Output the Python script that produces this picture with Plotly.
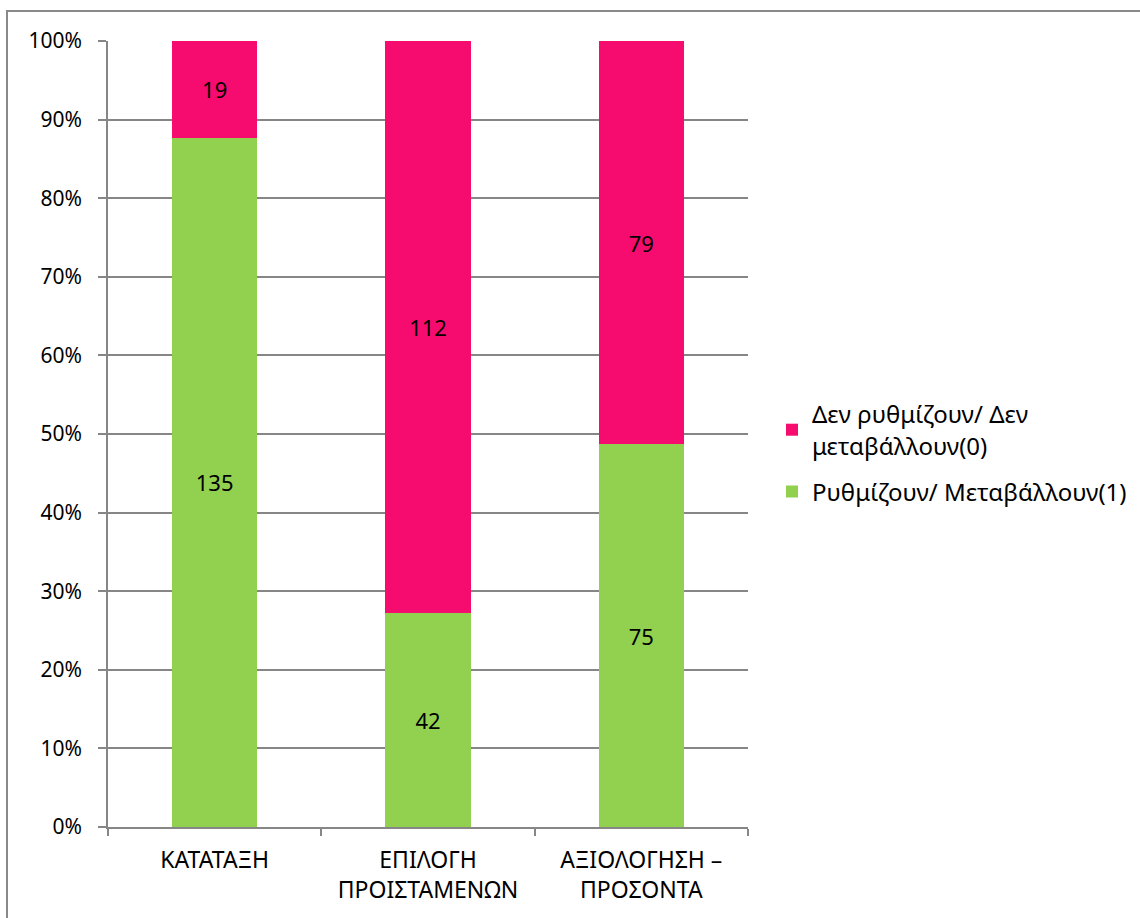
import plotly.graph_objects as go

# Categories (x-axis) and counts per response group
categories = ["ΚΑΤΑΤΑΞΗ", "ΕΠΙΛΟΓΗ<br>ΠΡΟΙΣΤΑΜΕΝΩΝ", "ΑΞΙΟΛΟΓΗΣΗ –<br>ΠΡΟΣΟΝΤΑ"]
regulate_counts = [135, 42, 75]        # Ρυθμίζουν/ Μεταβάλλουν(1)
not_regulate_counts = [19, 112, 79]    # Δεν ρυθμίζουν/ Δεν μεταβάλλουν(0)

series_names = ["Ρυθμίζουν/ Μεταβάλλουν(1)", "Δεν ρυθμίζουν/ Δεν<br>μεταβάλλουν(0)"]
y_ticks = [0, 10, 20, 30, 40, 50, 60, 70, 80, 90, 100]

FONT = "Noto Sans, Open Sans, sans-serif"
GRID = "#868686"

W, H = 1140, 918
L, R, T, B = 108, 392, 41, 91
pw, ph = W - L - R, H - T - B

fig = go.Figure()
fig.add_trace(go.Bar(
    x=categories, y=regulate_counts, name=series_names[0],
    legendgroup="g1", legendrank=2,
    marker=dict(color="#92D050", line=dict(width=0)),
    text=regulate_counts, textposition="inside", insidetextanchor="middle",
    textfont=dict(color="black", size=22, family=FONT),
))
fig.add_trace(go.Bar(
    x=categories, y=not_regulate_counts, name=series_names[1],
    legendgroup="g0", legendrank=1,
    marker=dict(color="#F50C6E", line=dict(width=0)),
    text=not_regulate_counts, textposition="inside", insidetextanchor="middle",
    textfont=dict(color="black", size=22, family=FONT),
))

# outer frame of the chart
fx0 = (7 - L) / pw
fy1 = 1 + (T - 11) / ph
fig.add_shape(type="path", xref="paper", yref="paper",
              path=f"M {fx0} -0.5 L {fx0} {fy1} L 2 {fy1}",
              line=dict(color="#898989", width=2))

fig.update_layout(
    width=W, height=H,
    margin=dict(l=L, r=R, t=T, b=B, autoexpand=False),
    barmode="stack", barnorm="percent", bargap=0.6,
    plot_bgcolor="white", paper_bgcolor="white",
    font=dict(family=FONT, size=21, color="black"),
    uniformtext=dict(mode="show", minsize=10),
    legend=dict(x=(772 - L) / pw, y=(827 - 392) / ph, xanchor="left", yanchor="top",
                traceorder="grouped", font=dict(size=24, family=FONT),
                tracegroupgap=12, itemwidth=30, bgcolor="rgba(0,0,0,0)"),
    showlegend=True,
)
fig.update_yaxes(
    range=[0, 100], tickvals=y_ticks, ticktext=[f"{v}%" for v in y_ticks],
    tickfont=dict(size=21),
    showgrid=True, gridcolor=GRID, gridwidth=1.5,
    showline=True, linecolor=GRID, linewidth=1.5,
    ticks="outside", ticklen=8, tickcolor=GRID, tickwidth=1.5,
    ticklabelstandoff=12, zeroline=False,
)
fig.update_xaxes(
    tickfont=dict(size=23),
    showgrid=False, showline=True, linecolor=GRID, linewidth=1.5,
    ticks="outside", tickson="boundaries", ticklen=7, tickcolor=GRID, tickwidth=1.5,
    ticklabelstandoff=12, mirror=False,
)

fig.write_html("out.html")
